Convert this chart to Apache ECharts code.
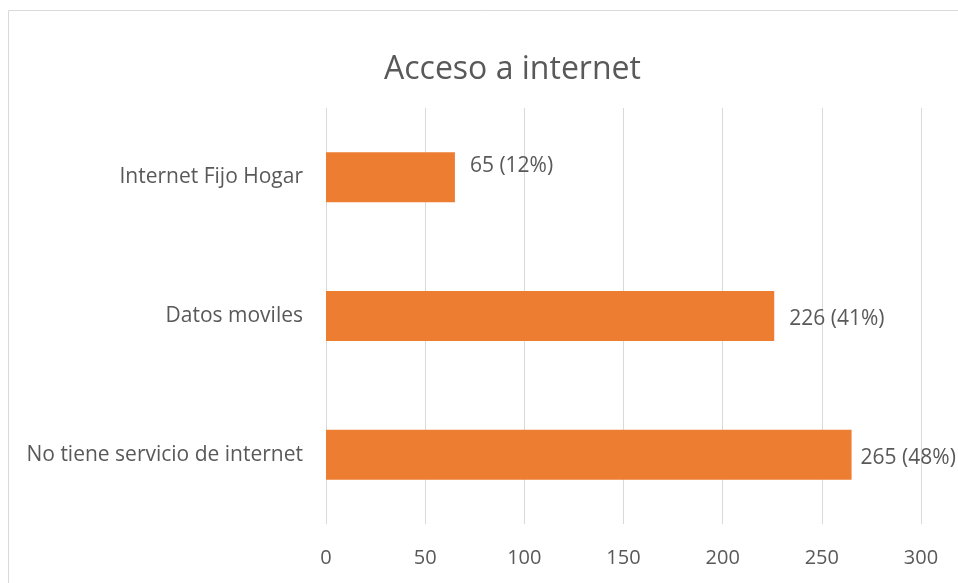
<!DOCTYPE html>
<html>
<head>
<meta charset="utf-8">
<style>
html,body{margin:0;padding:0;background:#fff;}
#c{width:958px;height:583px;}
</style>
<script src="https://cdn.jsdelivr.net/npm/echarts@6/dist/echarts.min.js"></script>
</head>
<body>
<div id="c"></div>
<script>
var categories = ["No tiene servicio de internet", "Datos moviles", "Internet Fijo Hogar"];
var values = [265, 226, 65];
var percents = ["48%", "41%", "12%"];
var xTicks = [0, 50, 100, 150, 200, 250, 300];

var labelOffsets = [[2, 3], [8, 3], [8, -11]];
var FONT = "Open Sans";
var chart = echarts.init(document.getElementById('c'), null, {renderer: 'canvas'});
var data = values.map(function (v, i) {
  return {
    value: v,
    label: { offset: labelOffsets[i] }
  };
});
chart.setOption({
  animation: false,
  backgroundColor: '#fff',
  title: {
    text: 'Acceso a internet',
    left: 379,
    top: 49,
    textStyle: { fontFamily: FONT, fontSize: 32, fontWeight: 'normal', color: '#595959' }
  },
  graphic: [{
    type: 'rect',
    shape: { x: 8.5, y: 10.5, width: 1000, height: 1000 },
    style: { fill: 'none', stroke: '#d9d9d9', lineWidth: 1 },
    silent: true
  }],
  grid: { left: 326, right: 37, top: 108, bottom: 59 },
  xAxis: {
    type: 'value',
    min: xTicks[0],
    max: xTicks[xTicks.length - 1],
    interval: 50,
    axisLine: { show: false },
    axisTick: { show: false },
    splitLine: { show: true, lineStyle: { color: '#d9d9d9', width: 1 } },
    axisLabel: { fontFamily: FONT, fontSize: 20, color: '#595959', margin: 24 }
  },
  yAxis: {
    type: 'category',
    data: categories,
    axisLine: { show: false },
    axisTick: { show: false },
    axisLabel: { fontFamily: FONT, fontSize: 21, color: '#595959', margin: 23, padding: [4, 0, 0, 0] }
  },
  series: [{
    type: 'bar',
    data: data,
    barWidth: 50,
    itemStyle: { color: '#ED7D31' },
    label: {
      show: true,
      position: 'right',
      distance: 7,
      fontFamily: FONT,
      fontSize: 21,
      color: '#595959',
      formatter: function (p) { return p.value + ' (' + percents[p.dataIndex] + ')'; }
    }
  }]
});
</script>
</body>
</html>
